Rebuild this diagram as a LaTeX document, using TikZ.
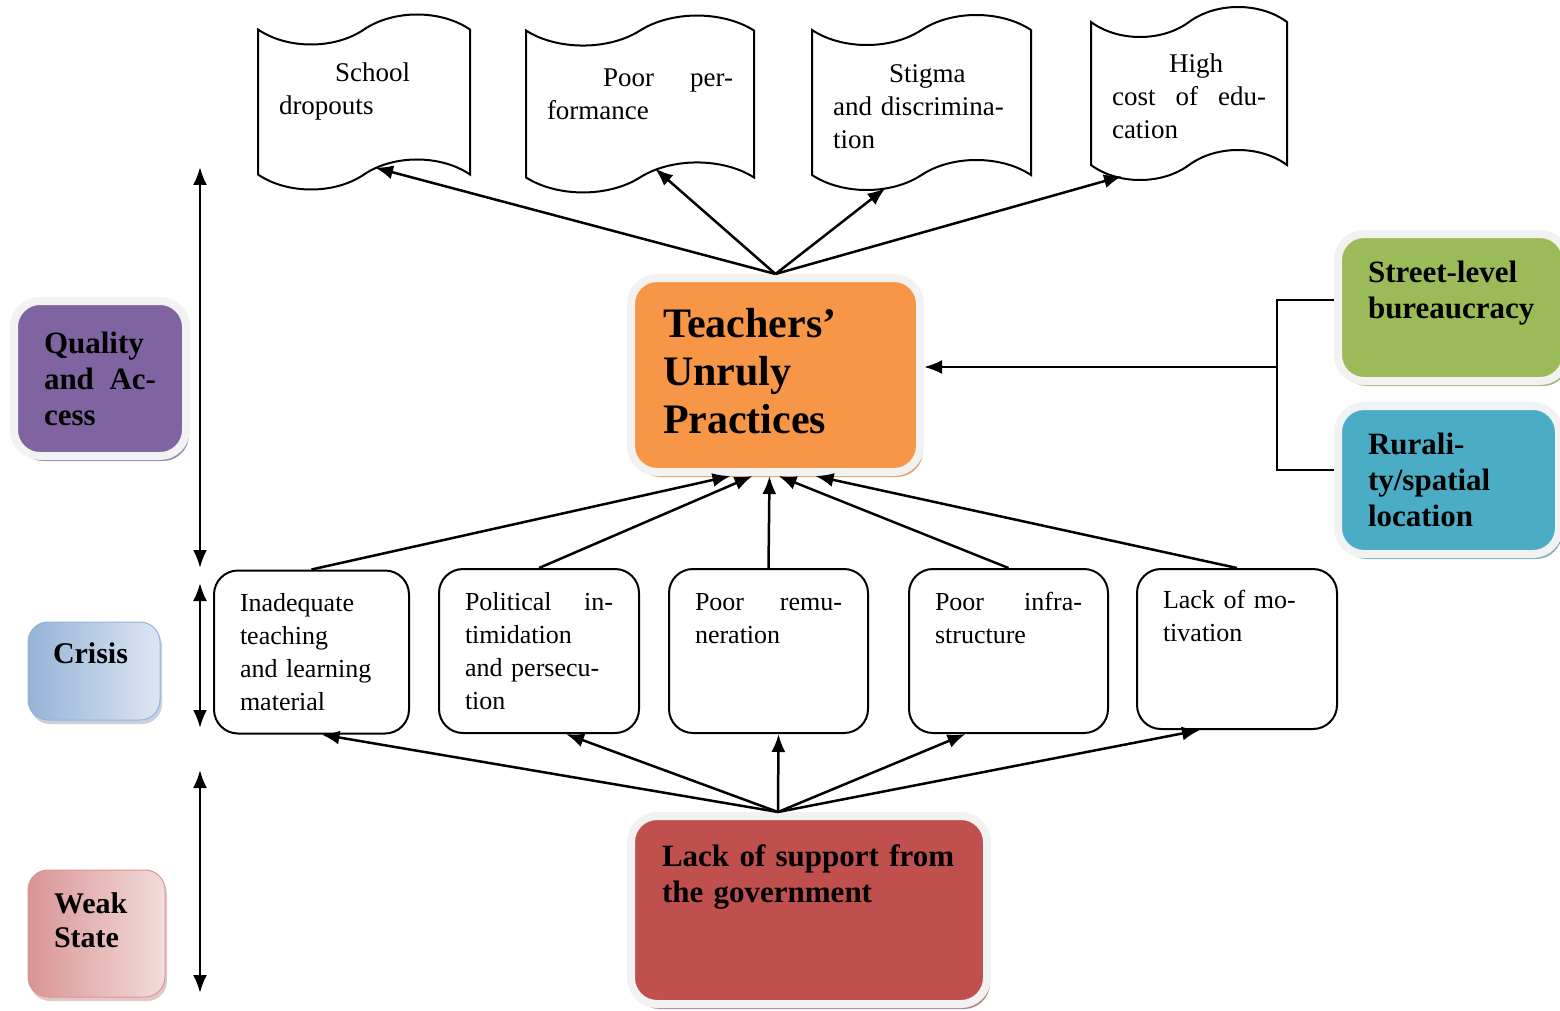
\documentclass[tikz,border=0pt]{standalone}
\usepackage{fontspec}
\setmainfont{Liberation Serif}
\usetikzlibrary{arrows.meta,shapes.symbols,shadows}
\definecolor{rim}{HTML}{F2F2F2}
\definecolor{tileorange}{HTML}{F79646}
\definecolor{tilepurple}{HTML}{8064A2}
\definecolor{tilegreen}{HTML}{9BBB59}
\definecolor{tileblue}{HTML}{4BACC6}
\definecolor{tilered}{HTML}{C0504D}
\definecolor{crisisdark}{HTML}{95B3D7}
\definecolor{crisislight}{HTML}{DCE6F2}
\definecolor{weakdark}{HTML}{D99594}
\definecolor{weaklight}{HTML}{F2DCDB}
\begin{document}
\begin{tikzpicture}[x=1pt,y=-1pt,
  arr/.style={line width=2.5pt,-{Latex[length=18pt,width=14pt]}},
  dbl/.style={line width=2.5pt,{Latex[length=18pt,width=14pt]}-{Latex[length=18pt,width=14pt]}},
  scroll/.style={tape,draw,line width=2pt,fill=white,inner xsep=21pt,inner ysep=0pt,align=left,
    tape bend height=30pt,font=\fontsize{27}{33}\selectfont},
  cause/.style={draw,line width=2pt,rounded corners=24pt,inner xsep=26pt,inner ysep=0pt,align=left,
    minimum height=163pt,font=\fontsize{26}{33}\selectfont},
  tile/.style={draw=rim,line width=8pt,rounded corners=26pt,inner ysep=0pt,align=left,
    font=\bfseries\fontsize{31}{36}\selectfont},
  tileshadow/.style={drop shadow={shadow xshift=3pt,shadow yshift=-5pt,fill=#1,opacity=.8}},
  band/.style={rounded corners=20pt,inner ysep=0pt,align=left,font=\bfseries\fontsize{30}{35}\selectfont}
]
\useasboundingbox (0,0) rectangle (1560,1011);

% effects on top
\node[scroll,text width=170pt,minimum height=175pt] (drop) at (364,102)
  {\mbox{}\\[1.5pt]\hspace*{56pt}School\\dropouts\\\strut};
\node[scroll,text width=186pt,minimum height=172pt] (perf) at (640,104)
  {\mbox{}\\[8pt]\hspace*{56pt}Poor\hfill per-\\formance\\\strut};
\node[scroll,text width=177pt,minimum height=175pt] (stig) at (921.5,102.5)
  {\mbox{}\\[-7.5pt]\hspace*{56pt}Stigma\\and discrimina-\\tion};
\node[scroll,text width=154pt,minimum height=173pt] (cost) at (1189,93.5)
  {\mbox{}\\[-9.5pt]\hspace*{57pt}High\\cost\hfill of\hfill edu-\\cation};

% central box and factors
\node[tile,tileshadow=tileorange!55!brown,fill=tileorange,inner xsep=32pt,text width=225pt,
  minimum height=194pt,font=\bfseries\fontsize{42}{48}\selectfont] (tup) at (775.5,375)
  {Teachers’\\Unruly\\Practices\\[-40pt]\mbox{}};
\node[tile,tileshadow=tilegreen!60!gray,fill=tilegreen,inner xsep=30pt,text width=168pt,
  minimum height=147pt] (slb) at (1452,307.5) {Street-level\\bureaucracy\\~};
\node[tile,tileshadow=tileblue!60!gray,fill=tileblue,inner xsep=30pt,text width=161pt,
  minimum height=148pt] (rur) at (1448.5,480) {Rurali-\\ty/spatial\\location};
\node[tile,tileshadow=tilered!60!gray,fill=tilered,inner xsep=31pt,text width=294pt,
  minimum height=188pt] (gov) at (809,910) {Lack of support from\\the government\\~\\~};

% left side levels
\node[tile,tileshadow=tilepurple!60!gray,fill=tilepurple,inner xsep=30pt,text width=112pt,
  minimum height=155pt] (qa) at (100,378.5) {Quality\\and\hfill Ac-\\cess};
\node[band,draw=crisisdark,line width=1pt,shading angle=60,left color=crisisdark,right color=crisislight,
  drop shadow={shadow xshift=2pt,shadow yshift=-4pt,fill=crisisdark!70!gray},
  inner xsep=25pt,text width=82pt,minimum height=98pt] (cri) at (94,671) {Crisis\\~};
\node[band,draw=weakdark,line width=1pt,shading angle=120,left color=weakdark,right color=weaklight,
  drop shadow={shadow xshift=2pt,shadow yshift=-4pt,fill=weakdark!80!gray},
  inner xsep=26pt,text width=85pt,minimum height=127pt,font=\bfseries\fontsize{30}{34}\selectfont]
  (weak) at (96.5,933.5) {\mbox{}\\[-5.5pt]Weak\\State\\~};

% crisis row
\node[cause,text width=143pt] (tlm) at (311.5,652) {Inadequate\\teaching\\and learning\\material};
\node[cause,text width=148pt,minimum height=164pt] (pol) at (539,651)
  {Political\hfill in-\\timidation\\and persecu-\\tion};
\node[cause,text width=147pt,minimum height=164pt] (rem) at (768.5,651) {Poor\hfill remu-\\neration\\~\\~};
\node[cause,text width=147pt,minimum height=164pt] (inf) at (1008.5,651) {Poor\hfill infra-\\structure\\~\\~};
\node[cause,text width=148pt,minimum height=160pt] (mot) at (1237,649) {Lack of mo-\\tivation\\~\\~};

% arrows to effects
\draw[arr] (tup.north) -- ([xshift=11pt,yshift=8pt]drop.south);
\draw[arr] (tup.north) -- ([xshift=15pt,yshift=10pt]perf.south);
\draw[arr] (tup.north) -- ([xshift=-36pt,yshift=-12pt]stig.south);
\draw[arr] (tup.north) -- ([xshift=-67pt,yshift=-10pt]cost.south);

% arrows from causes
\draw[arr] (tlm.north) -- ([xshift=-45pt]tup.south);
\draw[arr] (pol.north) -- ([xshift=-23pt]tup.south);
\draw[arr] (rem.north) -- ([xshift=-6pt]tup.south);
\draw[arr] (inf.north) -- ([xshift=3pt]tup.south);
\draw[arr] (mot.north) -- ([xshift=40pt]tup.south);

% arrows from the government
\coordinate (govtop) at ([xshift=-31pt]gov.north);
\draw[arr] (govtop) -- ([xshift=10pt]tlm.south);
\draw[arr] (govtop) -- ([xshift=27pt]pol.south);
\draw[arr] (govtop) -- ([xshift=10pt]rem.south);
\draw[arr] (govtop) -- ([xshift=-43pt]inf.south);
\draw[arr] (govtop) -- ([xshift=-37pt]mot.south);

% bracket on the right
\coordinate (fork) at (1277,367);
\draw[line width=1.5pt] ([yshift=7.5pt]slb.west) -| (fork) |- ([yshift=10pt]rur.west);
\draw[arr] (fork) -- (fork -| tup.east);

% level arrows on the left
\coordinate (qatop) at (200,167);
\coordinate (qabot) at (200,568);
\coordinate (critop) at (200,583);
\coordinate (cribot) at (200,728);
\coordinate (weaktop) at (200,770);
\coordinate (weakbot) at (200,993);
\draw[dbl] (qatop) -- (qabot);
\draw[dbl] (critop) -- (cribot);
\draw[dbl] (weaktop) -- (weakbot);
\end{tikzpicture}
\end{document}
